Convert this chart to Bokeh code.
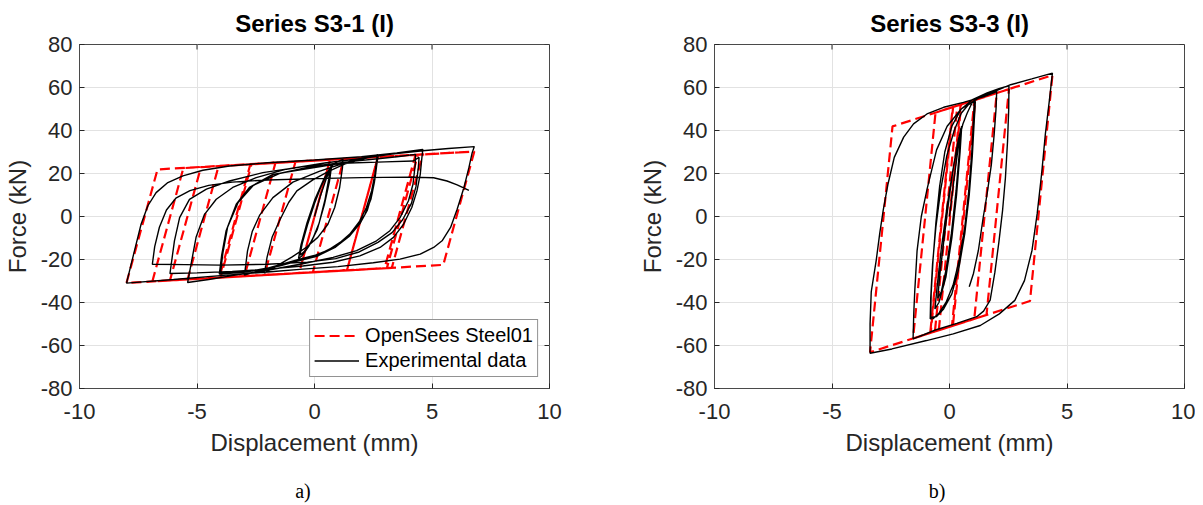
import math
from bokeh.plotting import figure
from bokeh.models import Range1d, FixedTicker, Legend, Div, Spacer
from bokeh.layouts import row, column
from bokeh.embed import file_html
from bokeh.resources import INLINE

# ---------------- data ----------------
x_ticks = [-10, -5, 0, 5, 10]
y_ticks = [-80, -60, -40, -20, 0, 20, 40, 60, 80]
titles = ["Series S3-1 (I)", "Series S3-3 (I)"]
sub_labels = ["a)", "b)"]
legend_labels = ["OpenSees Steel01", "Experimental data"]
x_label = "Displacement (mm)"
y_label = "Force (kN)"

# Series S3-1 : OpenSees Steel01 model (displacement mm, force kN)
s31_model = [
    (0.0, 0.0), (0.64, 25.6), (-0.6, -24.0), (0.66, 26.4), (1.25, 26.8),
    (-0.07, -25.9), (-2.13, -27.2), (-0.81, 25.5), (2.7, 27.7), (1.38, -25.0),
    (-2.98, -27.75), (-1.66, 25.0), (2.7, 27.7), (1.38, -25.0), (-4.05, -28.4),
    (-2.73, 24.3), (2.7, 27.7), (1.38, -25.0), (-4.0, -28.4), (-2.68, 24.3),
    (4.3, 28.7), (2.98, -24.05), (-5.4, -29.25), (-4.08, 23.5), (6.8, 30.2),
    (5.48, -22.5), (-8.0, -30.9), (-6.68, 21.9), (4.61, 28.9), (3.29, -23.9),
    (-6.15, -29.7), (-4.83, 23.0), (4.4, 28.7), (3.08, -24.0), (-6.9, -30.2),
    (-5.58, 22.5), (6.57, 30.1),
]

# Series S3-1 : experimental data
s31_exp = [
    (0.0, 0.0), (0.25, 9.5), (0.5, 17.5), (0.66, 22.0), (0.6, 17.0), (0.45, 8.0),
    (0.2, -3.0), (-0.1, -11.0), (-0.4, -16.0), (-0.62, -18.0), (-0.52, -12.5),
    (-0.3, -4.0), (0.0, 6.0), (0.3, 14.5), (0.55, 20.0), (0.72, 23.0), (0.64, 16.5),
    (0.42, 5.5), (0.12, -6.0), (-0.25, -14.0), (-0.55, -18.5), (-0.68, -19.5),
    (-0.57, -13.0), (-0.32, -3.0), (0.02, 8.0), (0.38, 17.0), (0.68, 23.0),
    (0.95, 25.4), (1.21, 26.6),
    (1.19, 22.7), (1.07, 13.5), (0.86, 4.2), (0.57, -3.6), (0.14, -9.7),
    (-0.36, -14.4), (-0.95, -18.8), (-1.55, -22.6), (-2.13, -26.3),
    (-2.02, -19.0), (-1.8, -9.5), (-1.49, -2.0), (-1.1, 6.5), (-0.75, 11.9),
    (-0.07, 17.0), (0.6, 21.0), (1.3, 24.5), (2.0, 26.6), (2.67, 28.6),
    (2.64, 25.8), (2.57, 19.6), (2.43, 11.9), (2.21, 4.2), (1.93, -2.0), (1.5, -8.2),
    (0.93, -13.6), (0.21, -17.5), (-0.64, -19.8), (-1.5, -22.5), (-2.3, -25.0),
    (-2.98, -27.3),
    (-2.85, -16.0), (-2.65, -7.0), (-2.34, 0.5), (-1.77, 8.8), (-0.92, 16.0),
    (0.2, 21.0), (1.3, 25.0), (2.0, 27.0), (2.7, 28.4),
    (2.66, 25.0), (2.58, 18.0), (2.45, 10.5), (2.25, 3.0), (1.95, -3.0), (1.5, -9.0),
    (0.9, -14.2), (0.1, -18.5), (-0.8, -21.0), (-2.0, -24.0), (-3.0, -26.0),
    (-4.05, -26.8),
    (-3.95, -18.0), (-3.76, -6.6), (-3.33, 5.7), (-2.77, 13.5), (-1.77, 19.6),
    (-0.07, 22.7), (1.2, 24.8), (2.0, 26.8), (2.7, 28.6),
    (2.63, 24.0), (2.55, 16.0), (2.4, 8.0), (2.15, 1.0), (1.8, -5.0), (1.3, -10.5),
    (0.6, -15.5), (-0.3, -19.5), (-1.5, -23.0), (-2.8, -25.5), (-4.0, -26.3),
    (-3.9, -17.0), (-3.7, -5.0), (-3.25, 6.5), (-2.6, 14.5), (-1.5, 20.0),
    (0.0, 23.5), (1.5, 25.5), (2.8, 27.0), (3.6, 27.9), (4.3, 28.9),
    (4.29, 24.3), (4.19, 15.0), (4.0, 7.3), (3.64, -0.5), (3.21, -6.6),
    (2.64, -11.3), (1.79, -15.9), (0.79, -19.0), (-0.5, -22.0), (-2.0, -25.0),
    (-3.5, -27.5), (-4.5, -29.3), (-5.4, -30.7),
    (-5.25, -22.0), (-5.04, -9.7), (-4.68, 1.0), (-4.18, 8.0), (-3.48, 13.5),
    (-2.48, 18.1), (-1.2, 22.0), (0.5, 25.0), (2.0, 27.0), (3.3, 29.0),
    (4.6, 30.6), (5.7, 31.6), (6.8, 32.5),
    (6.71, 29.7), (6.57, 22.7), (6.36, 13.5), (6.07, 3.4), (5.79, -5.1),
    (5.43, -11.3), (5.07, -14.4), (4.5, -17.5), (3.64, -19.8), (2.5, -21.5),
    (1.0, -23.3), (-0.5, -24.5), (-2.0, -25.8), (-4.0, -27.5), (-6.0, -29.3),
    (-8.0, -31.0),
    (-7.73, -19.0), (-7.38, -3.6), (-7.09, 5.0), (-6.74, 11.1), (-6.24, 15.8),
    (-5.6, 18.9), (-4.75, 21.5), (-3.62, 23.5), (-2.0, 25.0), (0.0, 26.3),
    (2.0, 27.8), (3.5, 29.6), (4.61, 31.2),
    (4.57, 27.4), (4.5, 19.6), (4.36, 11.9), (4.14, 4.2), (3.79, -3.6),
    (3.36, -9.7), (2.79, -14.4), (1.93, -18.3), (0.79, -21.3), (-0.5, -23.0),
    (-2.0, -24.5), (-3.5, -25.5), (-5.0, -26.2), (-6.15, -26.5),
    (-5.96, -11.3), (-5.74, -0.5), (-5.32, 8.0), (-4.6, 12.7), (-3.62, 16.5),
    (-2.2, 20.4), (-0.5, 23.2), (1.2, 24.8), (3.0, 25.4), (4.2, 25.8), (4.45, 27.5),
    (4.42, 23.0), (4.32, 14.0), (4.12, 6.0), (3.75, -1.5), (3.3, -7.5),
    (2.7, -12.0), (1.9, -16.5), (0.9, -19.6), (-0.3, -21.2), (-2.0, -22.2),
    (-4.0, -22.6), (-5.5, -22.4), (-6.9, -22.2),
    (-6.8, -14.0), (-6.6, -5.0), (-6.3, 3.0), (-5.9, 8.5), (-5.3, 12.0),
    (-4.5, 14.5), (-3.5, 16.0), (-2.0, 17.0), (0.0, 17.6), (2.0, 18.1),
    (4.0, 18.3), (5.07, 18.0), (5.64, 16.5), (6.07, 14.7), (6.57, 12.2),
]

# Series S3-3 : OpenSees Steel01 model
s33_model = [
    (0.0, 0.0), (0.473, 52.06), (0.5, 52.15), (-0.455, -52.9), (-0.62, -53.47),
    (0.335, 51.57), (1.06, 54.11), (0.105, -50.93), (-0.82, -54.17),
    (0.135, 50.87), (1.1, 54.25), (0.145, -50.79), (-0.8, -54.1),
    (0.155, 50.94), (2.53, 59.26), (1.575, -45.79), (-1.55, -56.73),
    (-0.595, 48.32), (4.38, 65.73), (3.425, -39.31), (-3.38, -63.13),
    (-2.425, 41.91), (2.01, 57.44), (1.055, -47.61), (0.84, -48.36),
]

# Series S3-3 : experimental data
s33_exp = [
    (0.0, 0.0), (0.2, 18.0), (0.38, 33.0), (0.48, 41.0), (0.42, 30.0), (0.28, 12.0),
    (0.08, -8.0), (-0.15, -25.0), (-0.35, -35.0), (-0.5, -38.0), (-0.42, -28.0),
    (-0.25, -12.0), (-0.05, 6.0), (0.18, 24.0), (0.38, 36.0), (0.52, 42.0),
    (0.45, 30.0), (0.3, 10.0), (0.1, -10.0), (-0.15, -28.0), (-0.45, -40.0),
    (-0.62, -43.0), (-0.52, -32.0), (-0.35, -15.0), (-0.1, 5.0), (0.15, 22.0),
    (0.38, 35.0), (0.57, 43.0),
    (0.75, 48.0), (0.92, 52.0), (1.06, 54.0),
    (1.02, 45.0), (0.95, 30.0), (0.82, 12.0), (0.65, -5.0), (0.42, -20.0),
    (0.15, -32.0), (-0.15, -40.0), (-0.45, -45.0), (-0.7, -47.5), (-0.82, -47.6),
    (-0.8, -38.0), (-0.72, -22.0), (-0.58, -5.0), (-0.38, 12.0), (-0.12, 28.0),
    (0.2, 40.0), (0.5, 48.0), (0.8, 52.0), (1.1, 53.5),
    (1.05, 44.0), (0.97, 28.0), (0.84, 10.0), (0.65, -8.0), (0.4, -24.0),
    (0.1, -36.0), (-0.25, -43.0), (-0.55, -46.5), (-0.8, -47.0),
    (-0.78, -36.0), (-0.7, -20.0), (-0.58, -3.0), (-0.42, 14.0), (-0.2, 30.0),
    (0.1, 42.0), (0.5, 50.0), (1.0, 54.5), (1.6, 57.5), (2.1, 59.5), (2.53, 60.8),
    (2.52, 50.0), (2.47, 35.0), (2.38, 18.0), (2.26, 3.0), (2.1, -12.0),
    (1.93, -26.0), (1.73, -38.9), (1.45, -44.0), (1.16, -46.6), (0.31, -49.7),
    (-0.6, -52.8), (-1.1, -55.0), (-1.55, -56.9),
    (-1.52, -45.0), (-1.48, -35.0), (-1.38, -16.0), (-1.2, 0.0), (-0.95, 13.0),
    (-0.55, 31.0), (-0.1, 42.0), (0.5, 50.0), (1.3, 55.5), (2.0, 58.5),
    (2.6, 61.3), (3.5, 64.0), (4.38, 66.7),
    (4.25, 54.0), (4.08, 38.4), (3.92, 19.8), (3.73, 1.2), (3.51, -15.8),
    (3.19, -29.8), (2.78, -39.0), (2.12, -45.3), (1.31, -50.7), (0.16, -54.6),
    (-0.98, -57.7), (-2.45, -61.6), (-3.38, -63.6),
    (-3.38, -50.0), (-3.33, -35.0), (-3.12, -20.5), (-2.97, -8.0), (-2.82, 3.0),
    (-2.62, 15.0), (-2.35, 27.5), (-1.95, 36.9), (-1.53, 43.1), (-0.96, 47.7),
    (-0.25, 50.8), (0.59, 53.1), (1.44, 55.7), (1.94, 57.7), (2.01, 58.8),
    (1.98, 50.0), (1.9, 38.0), (1.78, 24.0), (1.62, 12.0), (1.52, 5.0),
    (1.44, 0.0), (1.23, -15.7), (1.02, -26.5), (0.84, -32.7),
]

# ---------------- styling ----------------
FONT = "Liberation Sans"
AX_COL = "#262626"
FRAME_COL = "#4a4a4a"
GRID_COL = "#e2e2e2"


def make_panel(title, model, exp, right_border, with_legend):
    p = figure(frame_width=470, frame_height=344,
               x_range=Range1d(min(x_ticks), max(x_ticks)),
               y_range=Range1d(min(y_ticks), max(y_ticks)),
               output_backend="svg", toolbar_location=None,
               min_border_left=0, min_border_right=right_border,
               min_border_top=0, min_border_bottom=0,
               background_fill_color="white", border_fill_color="white")
    p.outline_line_color = FRAME_COL
    p.outline_line_width = 1

    p.title.text = title
    p.title.align = "center"
    p.title.text_font = FONT
    p.title.text_font_size = "24px"
    p.title.text_font_style = "bold"
    p.title.text_color = "#000000"
    p.title.standoff = 15

    for ax in (p.xaxis[0], p.yaxis[0]):
        ax.major_label_text_font = FONT
        ax.major_label_text_font_size = "22px"
        ax.major_label_text_color = AX_COL
        ax.axis_label_text_font = FONT
        ax.axis_label_text_font_size = "24px"
        ax.axis_label_text_font_style = "normal"
        ax.axis_label_text_color = AX_COL
        ax.axis_line_color = FRAME_COL
        ax.major_tick_line_color = AX_COL
        ax.major_tick_in = 5
        ax.major_tick_out = 0
        ax.minor_tick_line_color = None
    p.xaxis[0].ticker = FixedTicker(ticks=x_ticks)
    p.yaxis[0].ticker = FixedTicker(ticks=y_ticks)
    p.xaxis[0].major_label_overrides = {t: str(t) for t in x_ticks}
    p.yaxis[0].major_label_overrides = {t: str(t) for t in y_ticks}
    p.xaxis[0].axis_label = x_label
    p.yaxis[0].axis_label = y_label
    p.xaxis[0].major_label_standoff = 15
    p.xaxis[0].axis_label_standoff = 7
    p.yaxis[0].major_label_standoff = 7
    p.yaxis[0].axis_label_standoff = 7

    p.xgrid.ticker = FixedTicker(ticks=x_ticks)
    p.ygrid.ticker = FixedTicker(ticks=y_ticks)
    p.grid.grid_line_color = GRID_COL
    p.grid.grid_line_width = 1

    # box ticks on the top and right edges (MATLAB "box on")
    p.ray(x=x_ticks, y=[max(y_ticks)] * len(x_ticks), length=5, length_units="screen",
          angle=-math.pi / 2, line_color=AX_COL, line_width=1)
    p.ray(x=[max(x_ticks)] * len(y_ticks), y=y_ticks, length=5, length_units="screen",
          angle=math.pi, line_color=AX_COL, line_width=1)

    mx = [pt[0] for pt in model]
    my = [pt[1] for pt in model]
    ex = [pt[0] for pt in exp]
    ey = [pt[1] for pt in exp]
    r_model = p.line(mx, my, line_color="#ff0000", line_width=2.2, line_dash="10 5")
    r_exp = p.line(ex, ey, line_color="#000000", line_width=1.4)

    if with_legend:
        leg = Legend(items=[(legend_labels[0], [r_model]), (legend_labels[1], [r_exp])],
                     location="bottom_right", margin=11, padding=4, spacing=2,
                     label_text_font=FONT, label_text_font_size="20px",
                     label_text_color="#000000", glyph_width=45, glyph_height=23,
                     label_height=23, label_standoff=6,
                     border_line_color=AX_COL, border_line_width=1,
                     background_fill_color="white", background_fill_alpha=1.0)
        p.add_layout(leg)
    return p


def sub_div(text, width):
    html = ('<div style="width:%dpx;padding-top:26px;font-family:\'Liberation Serif\';'
            'font-size:20px;line-height:14px;text-align:center;color:#000000">%s</div>'
            % (width, text))
    return Div(text=html, width=width, height=42, margin=0)


p1 = make_panel(titles[0], s31_model, s31_exp, 14, True)
p2 = make_panel(titles[1], s33_model, s33_exp, 11, False)

top_row = row(p1, Spacer(width=72, height=10), p2)
bottom_row = row(sub_div(sub_labels[0], 606), Spacer(width=131, height=10),
                 sub_div(sub_labels[1], 400))
layout = column(top_row, bottom_row)
open("out.html", "w").write(file_html(layout, INLINE))
